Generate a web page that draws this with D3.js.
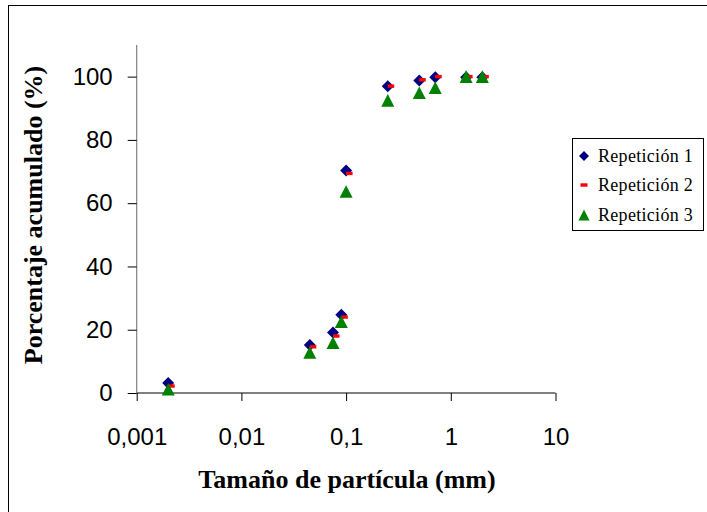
<!DOCTYPE html>
<html><head><meta charset="utf-8">
<script src="https://cdn.jsdelivr.net/npm/d3@7"></script>
<style>html,body{margin:0;padding:0;background:#fff;}svg{display:block;}</style>
</head><body>
<svg id="c" width="707" height="512"></svg>
<script>
const sizes = [0.002, 0.045, 0.075, 0.09, 0.1, 0.25, 0.5, 0.71, 1.4, 2];
const rep1 = [3.2, 15.2, 19.1, 24.7, 70.3, 97.0, 98.8, 99.8, 99.8, 99.8];
const rep2 = [2.2, 14.6, 18.0, 24.0, 69.4, 97.0, 99.0, 100, 100, 100];
const rep3 = [1.2, 12.8, 15.9, 22.5, 63.7, 92.5, 94.9, 96.5, 100, 100];
const seriesNames = ["Repetición 1", "Repetición 2", "Repetición 3"];
const xTicks = [0.001, 0.01, 0.1, 1, 10];
const xTickLabels = ["0,001", "0,01", "0,1", "1", "10"];
const yTicks = [0, 20, 40, 60, 80, 100];

const svg = d3.select("#c");
// outer frame
svg.append("rect").attr("x", 8.5).attr("y", 5.5).attr("width", 720).attr("height", 540)
  .attr("fill", "#fff").attr("stroke", "#000").attr("stroke-width", 1);

const x = d3.scaleLog().domain([0.001, 10]).range([136.7, 555.5]);
const y = d3.scaleLinear().domain([0, 110]).range([393, 45]);

const sans = "Liberation Sans, Arial, sans-serif";
const serif = "Liberation Serif, Times New Roman, serif";

// axes
const xAxis = d3.axisBottom(x).tickValues(xTicks).tickFormat((d, i) => xTickLabels[i]).tickSize(8).tickPadding(27);
const gx = svg.append("g").attr("transform", "translate(0,393)").call(xAxis);
gx.select(".domain").attr("stroke", "#000").attr("d", `M${x(0.001)},0H${x(10)}`);
gx.selectAll(".tick line").attr("stroke", "#000");
gx.selectAll("text").attr("font-family", sans).attr("font-size", 24).attr("fill", "#000");

const yAxis = d3.axisLeft(y).tickValues(yTicks).tickSize(9).tickPadding(15);
const gy = svg.append("g").attr("transform", "translate(136.7,0)").call(yAxis);
gy.select(".domain").attr("stroke", "#808080").attr("stroke-width", 1.2).attr("d", `M0,${y(0)}V${y(110)}`);
gy.selectAll(".tick line").attr("stroke", "#000");
gy.selectAll("text").attr("font-family", sans).attr("font-size", 24).attr("fill", "#000");

// titles
svg.append("text").attr("x", 347).attr("y", 488).attr("text-anchor", "middle")
  .attr("font-family", serif).attr("font-weight", "bold").attr("font-size", 26)
  .text("Tamaño de partícula (mm)");
svg.append("text").attr("transform", "translate(42,215) rotate(-90)").attr("text-anchor", "middle")
  .attr("font-family", serif).attr("font-weight", "bold").attr("font-size", 26)
  .text("Porcentaje acumulado (%)");

// markers
const diamond = "M0,-6L6,0L0,6L-6,0Z";
const dash = "M0,-1.7H6.5V1.7H0Z";
const tri = "M0,-6.3L6.5,6.3H-6.5Z";
const sets = [
  {vals: rep1, path: diamond, color: "#000080"},
  {vals: rep2, path: dash, color: "#ff0000"},
  {vals: rep3, path: tri, color: "#008000"}
];
sets.forEach(s => {
  svg.append("g").selectAll("path").data(sizes).join("path")
    .attr("d", s.path).attr("fill", s.color)
    .attr("transform", (d, i) => `translate(${x(d)},${y(s.vals[i])})`);
});

// legend
const lg = svg.append("g");
lg.append("rect").attr("x", 572.5).attr("y", 138.5).attr("width", 131).attr("height", 92)
  .attr("fill", "#fff").attr("stroke", "#000");
const legPaths = ["M0,-5L5,0L0,5L-5,0Z", "M-3.5,-1.7H3.5V1.7H-3.5Z", "M0,-5.5L5.5,5.5H-5.5Z"];
const legColors = ["#000080", "#ff0000", "#008000"];
const legY = [156, 185, 215];
seriesNames.forEach((n, i) => {
  lg.append("path").attr("d", legPaths[i]).attr("fill", legColors[i]).attr("transform", `translate(584,${legY[i]})`);
  lg.append("text").attr("x", 598).attr("y", legY[i] + 6).attr("font-family", serif)
    .attr("font-size", 18).attr("letter-spacing", 0.3).attr("fill", "#000").text(n);
});
</script>
</body></html>
